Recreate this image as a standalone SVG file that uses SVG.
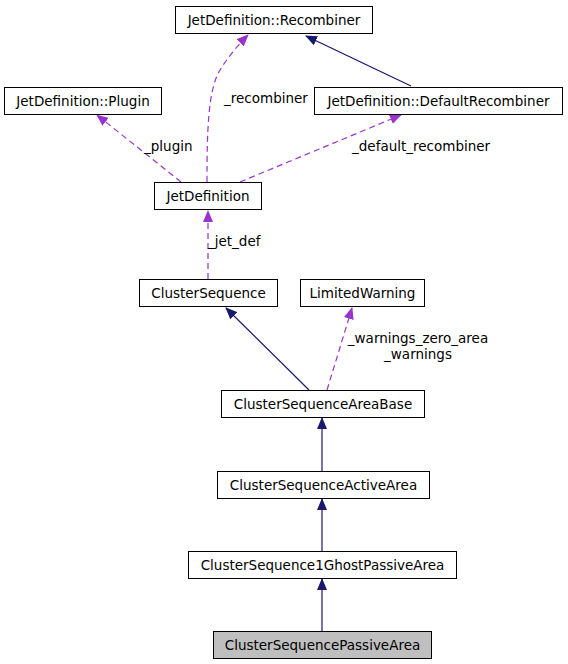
<svg xmlns="http://www.w3.org/2000/svg" width="568" height="664" viewBox="0 0 568 664">
<style>
.node rect{fill:#fff;stroke:#000;stroke-width:1}
.node text{font-family:"DejaVu Sans",sans-serif;font-size:13.5px;text-anchor:middle;fill:#000}
.lbl{font-family:"DejaVu Sans",sans-serif;font-size:13.5px;fill:#000}
.inh{fill:none;stroke:#191970;stroke-width:1.2}
.use{fill:none;stroke:#9a32cd;stroke-width:1.2;stroke-dasharray:6,4}
</style>
<defs>
<marker id="an" viewBox="0 0 12 10" refX="11" refY="5" markerWidth="12" markerHeight="10" markerUnits="userSpaceOnUse" orient="auto"><path d="M0,0 L12,5 L0,10 z" fill="#191970"/></marker>
<marker id="ap" viewBox="0 0 12 10" refX="11" refY="5" markerWidth="12" markerHeight="10" markerUnits="userSpaceOnUse" orient="auto"><path d="M0,0 L12,5 L0,10 z" fill="#9a32cd"/></marker>
</defs>
<g id="edges">
<path class="inh" d="M411,86 L306,36" marker-end="url(#an)"/>
<path class="use" d="M207,182 C207,130 208,90 220,70 C228,57 238,45 248,35" marker-end="url(#ap)"/>
<path class="use" d="M181,182 L97,115" marker-end="url(#ap)"/>
<path class="use" d="M240,182 L401,115" marker-end="url(#ap)"/>
<path class="use" d="M208,279 L208,211" marker-end="url(#ap)"/>
<path class="inh" d="M309,390 L226,308" marker-end="url(#an)"/>
<path class="use" d="M327,390 L352,308" marker-end="url(#ap)"/>
<path class="inh" d="M322,471 L322,418" marker-end="url(#an)"/>
<path class="inh" d="M322,551 L322,499" marker-end="url(#an)"/>
<path class="inh" d="M322,631 L322,579" marker-end="url(#an)"/>
<text class="lbl" x="224" y="103">_recombiner</text>
<text class="lbl" x="144" y="151">_plugin</text>
<text class="lbl" x="352" y="151">_default_recombiner</text>
<text class="lbl" x="208" y="246">_jet_def</text>
<text class="lbl" x="418" y="343" text-anchor="middle">_warnings_zero_area</text>
<text class="lbl" x="418" y="359" text-anchor="middle">_warnings</text>
</g>
<g id="recombiner" class="node"><rect x="175.5" y="6.5" width="197" height="27"/><text x="274" y="25">JetDefinition::Recombiner</text></g>
<g id="defaultrecombiner" class="node"><rect x="314.5" y="87.5" width="248" height="27"/><text x="438.5" y="106">JetDefinition::DefaultRecombiner</text></g>
<g id="plugin" class="node"><rect x="4.5" y="87.5" width="157" height="27"/><text x="83" y="106">JetDefinition::Plugin</text></g>
<g id="jetdefinition" class="node"><rect x="154.5" y="182.5" width="107" height="27"/><text x="208" y="201">JetDefinition</text></g>
<g id="clustersequence" class="node"><rect x="139.5" y="279.5" width="138" height="27"/><text x="208.5" y="298">ClusterSequence</text></g>
<g id="limitedwarning" class="node"><rect x="300.5" y="279.5" width="124" height="27"/><text x="362.5" y="298">LimitedWarning</text></g>
<g id="areabase" class="node"><rect x="221.5" y="390.5" width="203" height="27"/><text x="323" y="409">ClusterSequenceAreaBase</text></g>
<g id="activearea" class="node"><rect x="217.5" y="471.5" width="212" height="27"/><text x="323.5" y="490">ClusterSequenceActiveArea</text></g>
<g id="ghostpassive" class="node"><rect x="188.5" y="551.5" width="268" height="27"/><text x="322.5" y="570">ClusterSequence1GhostPassiveArea</text></g>
<g id="passivearea" class="node"><rect x="213.5" y="631.5" width="218" height="27" style="fill:#bfbfbf"/><text x="322.5" y="650">ClusterSequencePassiveArea</text></g>
</svg>
